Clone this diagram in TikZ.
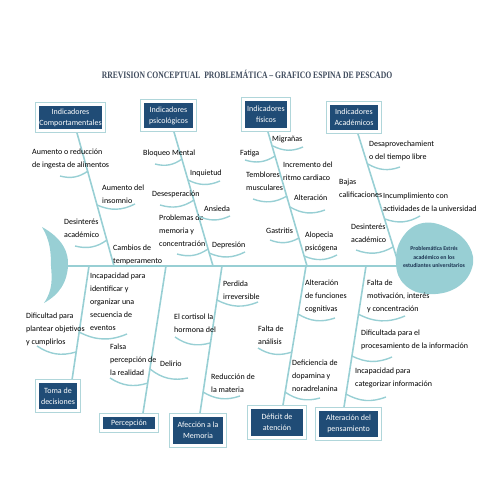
\documentclass[tikz,border=0pt]{standalone}
\usepackage{fontspec}
\setmainfont{Carlito}
\newfontfamily\titlefont[FakeStretch=0.78]{Liberation Serif}

\definecolor{fishc}{RGB}{152,207,212}
\definecolor{boxnavy}{RGB}{32,76,118}
\definecolor{boxframe}{RGB}{176,214,218}
\definecolor{titlec}{RGB}{62,74,92}
\definecolor{headtext}{RGB}{28,52,82}

\tikzset{
  bone/.style={draw=fishc, line width=1.6pt},
  twig/.style={draw=fishc, line width=1.4pt, bend right=25},
  lbl/.style={font=\fontsize{8}{13}\selectfont, text=black, align=left, inner sep=0pt, anchor=west},
  catbox/.style={font=\fontsize{8}{11}\selectfont, text=white, align=center,
    fill=boxnavy, draw=white, line width=3pt,
    preaction={draw=boxframe, line width=5pt},
    inner sep=2pt, outer sep=2.5pt},
}

\begin{document}
\begin{tikzpicture}[x=1pt, y=-1pt]
\useasboundingbox (0,0) rectangle (495,495);

% Title
\node[font=\titlefont\bfseries\fontsize{9.8}{11}\selectfont, text=titlec] (title) at (247,74)
  {RREVISION CONCEPTUAL\ \ PROBLEMÁTICA – GRAFICO ESPINA DE PESCADO};

% Tail, spine and head
\fill[fishc] (42,227) .. controls (62,238) and (69,252) .. (68,266)
  .. controls (67,282) and (60,294) .. (44,303)
  .. controls (53,290) and (52,278) .. (51,266)
  .. controls (51,252) and (50,240) .. (42,227);
\coordinate (tail) at (62,266);
\coordinate (spineend) at (400,266);
\draw[fishc, line width=2pt] (tail) -- (spineend);
\fill[fishc] plot[smooth cycle, tension=0.7] coordinates {(396,264) (402,238) (423,223) (450,229) (469,246) (472,268) (456,288) (428,294) (405,285)};
\node[font=\bfseries\fontsize{5.8}{8.7}\selectfont, text=headtext, align=center] (head) at (434,257)
  {Problemática Estrés\\académico en los\\estudiantes universitarios};

% Bones
\coordinate (b1t) at (77,133);  \coordinate (b1b) at (114,266);
\coordinate (b2t) at (174,132); \coordinate (b2b) at (213,266);
\coordinate (b3t) at (268,132); \coordinate (b3b) at (307,266);
\coordinate (b4t) at (358,134); \coordinate (b4b) at (398,262);
\coordinate (b5t) at (89,266);  \coordinate (b5b) at (72,380);
\coordinate (b6t) at (166,266); \coordinate (b6b) at (143,413);
\coordinate (b7t) at (222,266); \coordinate (b7b) at (200,413);
\coordinate (b8t) at (306,266); \coordinate (b8b) at (283,405);
\coordinate (b9t) at (366,266); \coordinate (b9b) at (344,407);
\foreach \i in {1,...,9}
  \draw[bone] (b\i t) -- (b\i b);

% Category boxes, top
\node[catbox, minimum width=66, minimum height=26] (comp) at (70.5,117.5) {Indicadores\\Comportamentales};
\node[catbox, minimum width=52, minimum height=28] (psic) at (168.5,115.5) {Indicadores\\psicológicos};
\node[catbox, minimum width=45, minimum height=30] (fisi) at (266,114.5) {Indicadores\\físicos};
\node[catbox, minimum width=51, minimum height=28] (acad) at (354,117.5) {Indicadores\\Académicos};

% Category boxes, bottom
\node[catbox, minimum width=41, minimum height=29] (toma) at (58,396) {Toma de\\decisiones};
\node[catbox, minimum width=55, minimum height=15] (perc) at (129,423) {Percepción};
\node[catbox, minimum width=53, minimum height=30] (afec) at (198,430.5) {Afección a la\\Memoria};
\node[catbox, minimum width=55, minimum height=30] (defi) at (277,422.5) {Déficit de\\atención};
\node[catbox, minimum width=62, minimum height=29] (alte) at (348.5,424) {Alteración del\\pensamiento};

% Causes, top
\node[lbl] (ingesta) at (32,158.5) {Aumento o reducción\\de ingesta de alimentos};
\node[lbl] (insomnio) at (102,194.5) {Aumento del\\insomnio};
\node[lbl] (desint1) at (64,228) {Desinterés\\académico};
\node[lbl] (cambios) at (113,255) {Cambios de\\temperamento};
\node[lbl] (bloqueo) at (143,153) {Bloqueo Mental};
\node[lbl] (inquietud) at (190,173) {Inquietud};
\node[lbl] (desesp) at (152,194) {Desesperación};
\node[lbl] (ansieda) at (204,209) {Ansieda};
\node[lbl] (memoria) at (159,231) {Problemas de\\memoria y\\concentración};
\node[lbl] (depresion) at (212,245) {Depresión};
\node[lbl] (migranas) at (272,139) {Migrañas};
\node[lbl] (fatiga) at (240,153) {Fatiga};
\node[lbl] (ritmo) at (283,171.5) {Incremento del\\ritmo cardiaco};
\node[lbl] (temblores) at (246,181.5) {Temblores\\musculares};
\node[lbl] (alteracion) at (294,198) {Alteración};
\node[lbl] (gastritis) at (266,231) {Gastritis};
\node[lbl] (alopecia) at (305,241.5) {Alopecia\\psicógena};
\node[lbl] (tiempo) at (369,151) {Desaprovechamient\\o del tiempo libre};
\node[lbl] (bajas) at (339,188) {Bajas\\calificaciones};
\node[lbl] (incumpl) at (383,202.5) {Incumplimiento con\\actividades de la universidad};
\node[lbl] (desint2) at (351,233.5) {Desinterés\\académico};

% Causes, bottom
\node[lbl] (secuencia) at (90,301.5) {Incapacidad para\\identificar y\\organizar una\\secuencia de\\eventos};
\node[lbl] (objetivos) at (26,329) {Dificultad para\\plantear objetivos\\y cumplirlos};
\node[lbl] (falsa) at (110,360) {Falsa\\percepción de\\la realidad};
\node[lbl] (delirio) at (160,364) {Delirio};
\node[lbl] (perdida) at (223,290) {Perdida\\irreversible};
\node[lbl] (cortisol) at (174,323.5) {El cortisol la\\hormona del};
\node[lbl] (materia) at (211,383) {Reducción de\\la materia};
\node[lbl] (funciones) at (305,296) {Alteración\\de funciones\\cognitivas};
\node[lbl] (analisis) at (258,335.5) {Falta de\\análisis};
\node[lbl] (dopamina) at (292,376) {Deficiencia de\\dopamina y\\noradrelanina};
\node[lbl] (motivacion) at (367,296) {Falta de\\motivación, interés\\y concentración};
\node[lbl] (procesam) at (361,339.5) {Dificultada para el\\procesamiento de la información};
\node[lbl] (categ) at (355,377.5) {Incapacidad para\\categorizar información};

% Twigs: k = on the bone, e = free end
\coordinate (e11) at (60,176);  \coordinate (k11) at (88,171);
\coordinate (k12) at (97,205);  \coordinate (e12) at (135,204);
\coordinate (e13) at (75,246);  \coordinate (k13) at (107,240);
\coordinate (e21) at (155,164); \coordinate (k21) at (182,159);
\coordinate (k22) at (188,180); \coordinate (e22) at (220,181);
\coordinate (e23) at (160,205); \coordinate (k23) at (194,200);
\coordinate (k24) at (198,216); \coordinate (e24) at (230,216);
\coordinate (e25) at (177,254); \coordinate (k25) at (208,249);
\coordinate (k26) at (209,253); \coordinate (e26) at (245,252);
\coordinate (k31) at (273,146); \coordinate (e31) at (303,147);
\coordinate (e32) at (245,160); \coordinate (k32) at (275,156);
\coordinate (e33) at (253,199); \coordinate (k33) at (287,196);
\coordinate (k34) at (290,207); \coordinate (e34) at (325,210);
\coordinate (e35) at (270,240); \coordinate (k35) at (299,238);
\coordinate (k36) at (304,256); \coordinate (e36) at (337,255);
\coordinate (k41) at (368,164); \coordinate (e41) at (400,167);
\coordinate (k42) at (385,219); \coordinate (e42) at (420,216);
\coordinate (e43) at (356,250); \coordinate (k43) at (393,247);
\coordinate (k51) at (79,332);  \coordinate (e51) at (127,334);
\coordinate (e52) at (37,346);  \coordinate (k52) at (76,352);
\coordinate (e61) at (110,378); \coordinate (k61) at (148,383);
\coordinate (k62) at (150,369); \coordinate (e62) at (188,378);
\coordinate (k71) at (217,300); \coordinate (e71) at (258,302);
\coordinate (e72) at (175,337); \coordinate (k72) at (210,343);
\coordinate (k73) at (203,392); \coordinate (e73) at (240,396);
\coordinate (k81) at (298,314); \coordinate (e81) at (335,318);
\coordinate (e82) at (258,348); \coordinate (k82) at (292,352);
\coordinate (k83) at (285,392); \coordinate (e83) at (320,398);
\coordinate (k91) at (358,314); \coordinate (e91) at (405,316);
\coordinate (k92) at (352,356); \coordinate (e92) at (392,357);
\coordinate (k93) at (346,394); \coordinate (e93) at (386,397);
\foreach \p/\q in {e11/k11, k12/e12, e13/k13, e21/k21, k22/e22, e23/k23, k24/e24,
    e25/k25, k26/e26, k31/e31, e32/k32, e33/k33, k34/e34, e35/k35, k36/e36,
    k41/e41, k42/e42, e43/k43, k51/e51, e52/k52, e61/k61, k62/e62, k71/e71,
    e72/k72, k73/e73, k81/e81, e82/k82, k83/e83, k91/e91, k92/e92, k93/e93}
  \draw[twig] (\p) to (\q);
\end{tikzpicture}
\end{document}
